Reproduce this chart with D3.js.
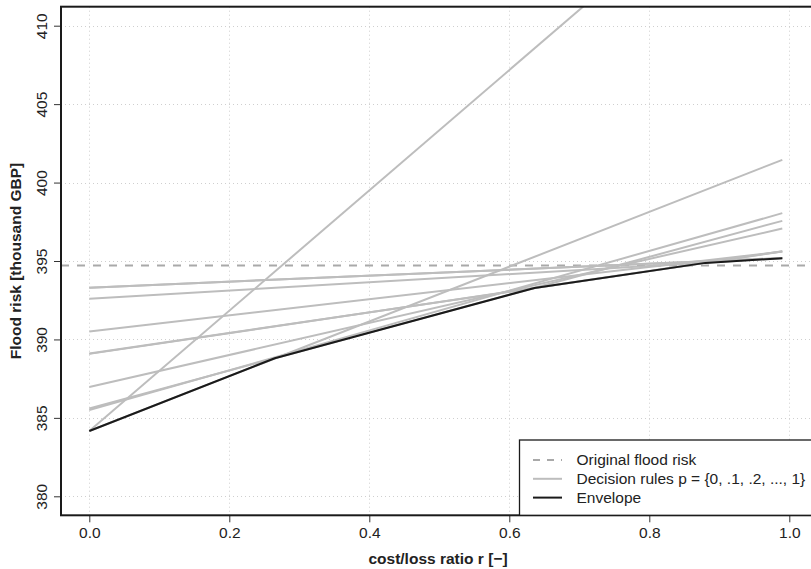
<!DOCTYPE html>
<html>
<head>
<meta charset="utf-8">
<script src="https://cdn.jsdelivr.net/npm/d3@7"></script>
<style>
  html, body { margin: 0; padding: 0; background: #fff; }
  svg { display: block; font-family: "Liberation Sans", Arial, Helvetica, sans-serif; }
</style>
</head>
<body>
<svg id="chart" width="811" height="569"></svg>
<script>
// Decision rules: flood risk at r = 0 and r = 0.99 for each threshold p
const thresholds = ["0", ".1", ".2", ".3", ".4", ".5", ".6", ".7", ".8", ".9", "1"];
const rEnds = [0, 0.99];
const riskAtStart = [384.16, 384.16, 385.50, 385.60, 386.97, 389.08, 389.10, 390.50, 392.60, 393.30, 393.30];
const riskAtEnd   = [422.13, 401.45, 398.05, 397.56, 397.07, 395.62, 395.60, 395.60, 395.18, 395.19, 395.19];

// Lower envelope of the decision rules
const envelopeR    = [0, 0.265, 0.636, 0.88, 0.99];
const envelopeRisk = [384.16, 388.80, 393.28, 394.88, 395.18];

// Original (no-forecast) flood risk
const originalRisk = 394.71;

// Axis ticks
const xTicks = [0, 0.2, 0.4, 0.6, 0.8, 1.0];
const yTicks = [380, 385, 390, 395, 400, 405, 410];

const FONT = "'Liberation Sans', Arial, Helvetica, sans-serif";
const FS = 15.5;

const svg = d3.select("#chart");

// Plot region (right edge runs past the window)
const frame = { left: 61, top: 6.7, right: 812, bottom: 515.3 };

const x = d3.scaleLinear().domain([0, 1]).range([89.3, 789.3]);
const y = d3.scaleLinear().domain([380, 410]).range([496.3, 25.7]);

svg.append("defs").append("clipPath").attr("id", "plotclip")
  .append("rect")
  .attr("x", frame.left).attr("y", frame.top)
  .attr("width", frame.right - frame.left).attr("height", frame.bottom - frame.top);

// Dotted grid
const grid = svg.append("g").attr("stroke", "#cfcfcf").attr("stroke-width", 1)
  .attr("stroke-dasharray", "1,3").attr("fill", "none");
grid.selectAll("line.gx").data(xTicks).join("line").attr("class", "gx")
  .attr("x1", d => Math.round(x(d)) + 0.5).attr("x2", d => Math.round(x(d)) + 0.5)
  .attr("y1", frame.top).attr("y2", frame.bottom);
grid.selectAll("line.gy").data(yTicks).join("line").attr("class", "gy")
  .attr("y1", d => Math.round(y(d)) + 0.5).attr("y2", d => Math.round(y(d)) + 0.5)
  .attr("x1", frame.left).attr("x2", frame.right);

const plot = svg.append("g").attr("clip-path", "url(#plotclip)");

// Original flood risk (dashed)
plot.append("line")
  .attr("x1", frame.left).attr("x2", frame.right)
  .attr("y1", y(originalRisk)).attr("y2", y(originalRisk))
  .attr("stroke", "#a9a9a9").attr("stroke-width", 2)
  .attr("stroke-dasharray", "8,8");

// Decision rule lines
const line = d3.line().x(d => x(d[0])).y(d => y(d[1]));
const rules = thresholds.map((p, i) => ({
  p,
  pts: [[rEnds[0], riskAtStart[i]], [rEnds[1], riskAtEnd[i]]]
}));
plot.selectAll("path.rule").data(rules).join("path").attr("class", "rule")
  .attr("d", d => line(d.pts))
  .attr("fill", "none").attr("stroke", "#bdbdbd").attr("stroke-width", 2);

// Envelope
plot.append("path")
  .attr("d", line(envelopeR.map((r, i) => [r, envelopeRisk[i]])))
  .attr("fill", "none").attr("stroke", "#1a1a1a").attr("stroke-width", 2)
  .attr("stroke-linejoin", "round");

// Axes
const xAxis = svg.append("g").attr("transform", `translate(0,${frame.bottom})`)
  .call(d3.axisBottom(x).tickValues(xTicks).tickFormat(d3.format(".1f")).tickSize(7).tickPadding(4));
const yAxis = svg.append("g").attr("transform", `translate(${frame.left},0)`)
  .call(d3.axisLeft(y).tickValues(yTicks).tickFormat(d3.format("d")).tickSize(7).tickPadding(4));
[xAxis, yAxis].forEach(g => {
  g.select(".domain").remove();
  g.selectAll(".tick line").attr("stroke", "#333").attr("stroke-width", 1);
  g.selectAll(".tick text").attr("fill", "#222").style("font-size", FS + "px")
    .style("font-family", FONT);
});
xAxis.selectAll(".tick text").attr("dy", "0.71em").attr("y", 11.5);
yAxis.selectAll(".tick text")
  .attr("x", null).attr("dy", null)
  .attr("text-anchor", "middle")
  .attr("transform", "translate(-14.5,0) rotate(-90)");

// Frame
svg.append("rect")
  .attr("x", frame.left).attr("y", frame.top)
  .attr("width", frame.right - frame.left).attr("height", frame.bottom - frame.top)
  .attr("fill", "none").attr("stroke", "#1a1a1a").attr("stroke-width", 2);

// Axis titles
svg.append("text")
  .attr("x", 438).attr("y", 563.5)
  .attr("text-anchor", "middle").attr("font-weight", "bold")
  .attr("font-size", FS).attr("fill", "#222")
  .text("cost/loss ratio r [\u2212]");
svg.append("text")
  .attr("transform", `translate(20.5,${(frame.top + frame.bottom) / 2}) rotate(-90)`)
  .attr("text-anchor", "middle").attr("font-weight", "bold")
  .attr("font-size", FS).attr("fill", "#222")
  .text("Flood risk [thousand GBP]");

// Legend
const legendItems = [
  { label: "Original flood risk", color: "#a9a9a9", dash: "7,7" },
  { label: "Decision rules p = {0, .1, .2, ..., 1}", color: "#bdbdbd", dash: null },
  { label: "Envelope", color: "#1a1a1a", dash: null }
];
const legend = svg.append("g");
legend.append("rect")
  .attr("x", 519.5).attr("y", 440)
  .attr("width", 320).attr("height", frame.bottom - 440)
  .attr("fill", "#fff").attr("stroke", "#1a1a1a").attr("stroke-width", 1.3);
const rows = legend.selectAll("g.row").data(legendItems).join("g").attr("class", "row")
  .attr("transform", (d, i) => `translate(0,${460 + i * 18.8})`);
rows.append("line")
  .attr("x1", 533).attr("x2", 562).attr("y1", 0).attr("y2", 0)
  .attr("stroke", d => d.color).attr("stroke-width", 2)
  .attr("stroke-dasharray", d => d.dash);
rows.append("text")
  .attr("x", 576.5).attr("y", 0).attr("dy", "0.35em")
  .attr("font-size", FS).attr("fill", "#222")
  .text(d => d.label);
</script>
</body>
</html>
